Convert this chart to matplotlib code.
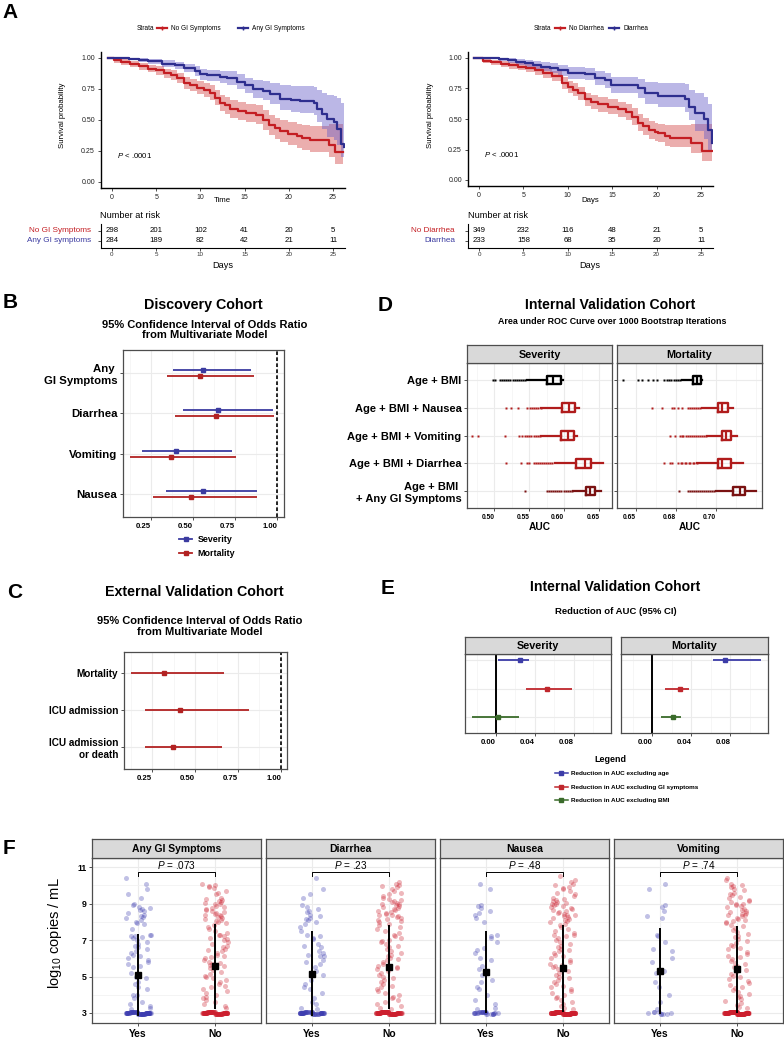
import numpy as np
import matplotlib
matplotlib.use('Agg')
import matplotlib.pyplot as plt
from matplotlib.lines import Line2D

plt.rcParams['font.family'] = ['Liberation Sans', 'DejaVu Sans']
plt.rcParams['mathtext.fontset'] = 'custom'
plt.rcParams['mathtext.rm'] = 'Liberation Sans'
plt.rcParams['mathtext.it'] = 'Liberation Sans:italic'
plt.rcParams['mathtext.bf'] = 'Liberation Sans:bold'

# ------------------------------------------------------------------ data: panel A
km_ticks = [0, 5, 10, 15, 20, 25]
a1_red_t = [-0.5, 0.2, 1.0, 2.0, 3.0, 4.1, 5.0, 5.9, 6.7, 7.4, 8.1, 8.8, 9.6, 10.4, 11.1, 11.6, 12.2, 12.8, 13.3, 14.2,
            15.2, 16.3, 17.1, 17.8, 18.4, 19.0, 19.9, 20.9, 21.5, 22.4, 24.6, 25.2, 26.1]
a1_red_s = [1.0, 0.98, 0.965, 0.95, 0.935, 0.915, 0.9, 0.875, 0.86, 0.84, 0.80, 0.78, 0.76, 0.74, 0.72, 0.68, 0.64, 0.62,
            0.59, 0.575, 0.556, 0.543, 0.50, 0.46, 0.435, 0.41, 0.39, 0.37, 0.355, 0.34, 0.30, 0.24, 0.24]
a1_red_lo = [1.0, 0.962, 0.944, 0.925, 0.906, 0.884, 0.866, 0.838, 0.82, 0.797, 0.754, 0.731, 0.707, 0.684, 0.66, 0.617,
             0.575, 0.552, 0.52, 0.503, 0.482, 0.466, 0.42, 0.378, 0.35, 0.323, 0.30, 0.277, 0.26, 0.243, 0.2, 0.145, 0.13]
a1_red_hi = [1.0, 0.997, 0.988, 0.975, 0.963, 0.946, 0.934, 0.912, 0.9, 0.883, 0.846, 0.829, 0.813, 0.796, 0.78, 0.743,
             0.705, 0.688, 0.66, 0.647, 0.63, 0.62, 0.58, 0.542, 0.52, 0.498, 0.48, 0.468, 0.46, 0.455, 0.47, 0.47, 0.47]
a1_blue_t = [-0.5, 1.9, 3.0, 4.1, 5.6, 7.1, 8.2, 9.4, 10.0, 10.8, 12.2, 13.0, 14.1, 15.0, 16.0, 17.1, 17.9, 19.0, 20.2,
             21.3, 22.8, 23.2, 23.8, 24.3, 25.1, 25.5, 25.9, 26.2]
a1_blue_s = [1.0, 0.995, 0.985, 0.975, 0.955, 0.94, 0.92, 0.897, 0.87, 0.86, 0.85, 0.84, 0.81, 0.78, 0.75, 0.737, 0.71,
             0.67, 0.662, 0.657, 0.64, 0.59, 0.55, 0.51, 0.485, 0.43, 0.31, 0.28]
a1_blue_lo = [1.0, 0.983, 0.967, 0.953, 0.928, 0.908, 0.884, 0.857, 0.826, 0.812, 0.798, 0.785, 0.75, 0.715, 0.68, 0.66,
              0.628, 0.58, 0.568, 0.56, 0.54, 0.48, 0.43, 0.36, 0.34, 0.30, 0.2, 0.18]
a1_blue_hi = [1.0, 1.0, 0.999, 0.995, 0.98, 0.97, 0.955, 0.936, 0.912, 0.905, 0.898, 0.892, 0.868, 0.842, 0.825, 0.815,
              0.8, 0.78, 0.775, 0.772, 0.765, 0.74, 0.72, 0.705, 0.695, 0.675, 0.64, 0.62]
a1_risk_red = [298, 201, 102, 41, 20, 5]
a1_risk_blue = [284, 189, 82, 42, 21, 11]

a2_red_t = [-0.6, 0.5, 1.4, 2.5, 3.4, 4.4, 5.3, 6.3, 7.2, 8.2, 9.3, 10.0, 10.6, 11.2, 11.9, 12.6, 13.4, 14.5, 15.7, 16.5,
            17.2, 17.9, 18.5, 19.1, 19.8, 20.2, 20.9, 21.5, 23.9, 25.1, 26.2]
a2_red_s = [1.0, 0.975, 0.965, 0.95, 0.94, 0.93, 0.915, 0.9, 0.875, 0.85, 0.795, 0.76, 0.74, 0.71, 0.66, 0.64, 0.62, 0.6,
            0.58, 0.555, 0.52, 0.47, 0.44, 0.41, 0.395, 0.385, 0.36, 0.345, 0.30, 0.24, 0.24]
a2_red_lo = [1.0, 0.958, 0.945, 0.926, 0.913, 0.9, 0.882, 0.864, 0.836, 0.808, 0.749, 0.711, 0.689, 0.657, 0.604, 0.582,
             0.561, 0.539, 0.517, 0.49, 0.453, 0.401, 0.369, 0.337, 0.32, 0.309, 0.282, 0.267, 0.22, 0.155, 0.13]
a2_red_hi = [1.0, 0.992, 0.985, 0.974, 0.967, 0.96, 0.948, 0.936, 0.914, 0.892, 0.841, 0.809, 0.791, 0.763, 0.716, 0.697,
             0.679, 0.661, 0.643, 0.62, 0.587, 0.54, 0.512, 0.483, 0.47, 0.461, 0.45, 0.45, 0.46, 0.46, 0.46]
a2_blue_t = [-0.6, 2.2, 3.3, 4.2, 5.2, 6.1, 7.0, 8.0, 8.9, 10.0, 11.9, 13.1, 14.2, 14.9, 17.9, 18.7, 20.2, 23.2, 23.6,
             24.3, 25.3, 25.8, 26.2]
a2_blue_s = [1.0, 0.99, 0.98, 0.97, 0.96, 0.945, 0.93, 0.915, 0.90, 0.88, 0.87, 0.84, 0.82, 0.78, 0.75, 0.71, 0.69, 0.66,
             0.60, 0.55, 0.50, 0.41, 0.30]
a2_blue_lo = [1.0, 0.973, 0.958, 0.944, 0.93, 0.911, 0.893, 0.874, 0.855, 0.83, 0.817, 0.782, 0.758, 0.71, 0.673, 0.627,
              0.6, 0.56, 0.495, 0.40, 0.34, 0.25, 0.15]
a2_blue_hi = [1.0, 1.0, 0.997, 0.993, 0.986, 0.977, 0.966, 0.955, 0.944, 0.928, 0.921, 0.896, 0.88, 0.848, 0.825, 0.805,
              0.795, 0.785, 0.74, 0.71, 0.68, 0.62, 0.62]
a2_risk_red = [349, 232, 116, 48, 21, 5]
a2_risk_blue = [233, 158, 68, 35, 20, 11]

# ------------------------------------------------------------------ data: panel B
b_cats = ['Nausea', 'Vomiting', 'Diarrhea', 'Any \nGI Symptoms']
b_sev_or = [0.56, 0.40, 0.65, 0.56]
b_sev_lo = [0.339, 0.197, 0.44, 0.381]
b_sev_hi = [0.88, 0.73, 0.976, 0.845]
b_mort_or = [0.49, 0.367, 0.637, 0.54]
b_mort_lo = [0.262, 0.125, 0.393, 0.345]
b_mort_hi = [0.88, 0.755, 0.982, 0.863]
or_ticks = [0.25, 0.50, 0.75, 1.00]
or_ticklabels = ['0.25', '0.50', '0.75', '1.00']

# ------------------------------------------------------------------ data: panel C
c_cats = ['ICU admission\nor death', 'ICU admission', 'Mortality']
c_or = [0.372, 0.413, 0.32]
c_lo = [0.209, 0.209, 0.128]
c_hi = [0.655, 0.814, 0.669]

# ------------------------------------------------------------------ data: panel D
d_models = ['Age + BMI \n+ Any GI Symptoms', 'Age + BMI + Diarrhea', 'Age + BMI + Vomiting',
            'Age + BMI + Nausea', 'Age + BMI']
d_sev_q1 = [0.6313, 0.6172, 0.5952, 0.5961, 0.575]
d_sev_med = [0.6369, 0.6289, 0.6055, 0.6069, 0.5834]
d_sev_q3 = [0.6444, 0.6383, 0.6139, 0.6158, 0.5947]
d_sev_wlo = [0.612, 0.586, 0.567, 0.567, 0.546]
d_sev_whi = [0.6524, 0.6547, 0.6186, 0.6205, 0.5985]
d_sev_fliers = [
    [0.5445, 0.575, 0.578, 0.5805, 0.5835, 0.587, 0.590, 0.593, 0.5955, 0.599, 0.602, 0.605, 0.608, 0.6105],
    [0.5173, 0.5384, 0.5469, 0.549, 0.5563, 0.559, 0.562, 0.5655, 0.568, 0.571, 0.574, 0.577, 0.580, 0.583],
    [0.4681, 0.4766, 0.515, 0.5352, 0.540, 0.5436, 0.5469, 0.550, 0.553, 0.556, 0.559, 0.562, 0.565],
    [0.5164, 0.5234, 0.5342, 0.5469, 0.5516, 0.554, 0.557, 0.560, 0.563, 0.566],
    [0.4977, 0.5014, 0.508, 0.511, 0.514, 0.517, 0.52, 0.523, 0.526, 0.529, 0.532, 0.535, 0.538, 0.541, 0.544],
]
d_mort_q1 = [0.7108, 0.701, 0.7035, 0.701, 0.6858]
d_mort_med = [0.715, 0.704, 0.7063, 0.704, 0.6879]
d_mort_q3 = [0.7181, 0.7094, 0.7094, 0.7073, 0.6904]
d_mort_wlo = [0.6998, 0.6884, 0.6946, 0.6915, 0.6789]
d_mort_whi = [0.7248, 0.7171, 0.7129, 0.7108, 0.691]
d_mort_fliers = [
    [0.6769, 0.6827, 0.684, 0.6852, 0.6865, 0.6877, 0.689, 0.6902, 0.6915, 0.6927, 0.694, 0.6952, 0.6965, 0.6977, 0.699],
    [0.6675, 0.6713, 0.6723, 0.6765, 0.6778, 0.679, 0.6803, 0.6815, 0.6828, 0.684, 0.6853, 0.6865, 0.6878],
    [0.6713, 0.6744, 0.6775, 0.6786, 0.6796, 0.681, 0.6822, 0.6835, 0.6847, 0.686, 0.6872, 0.6885, 0.6897, 0.691,
     0.6922, 0.6935],
    [0.6598, 0.666, 0.6723, 0.674, 0.6765, 0.6785, 0.6823, 0.6835, 0.685, 0.6862, 0.6875, 0.6887, 0.69],
    [0.6417, 0.651, 0.6535, 0.6573, 0.6604, 0.6633, 0.6677, 0.669, 0.6705, 0.672, 0.6735, 0.675, 0.6765, 0.6777],
]
d_sev_ticks = [0.50, 0.55, 0.60, 0.65]
d_sev_ticklabels = ['0.50', '0.55', '0.60', '0.65']
d_mort_ticks = [0.65, 0.675, 0.70]
d_mort_ticklabels = ['0.65', '0.68', '0.70']

# ------------------------------------------------------------------ data: panel E
e_terms = ['Reduction in AUC excluding age', 'Reduction in AUC excluding GI symptoms',
           'Reduction in AUC excluding BMI']
e_sev_est = [0.0247, 0.053, 0.0017]
e_sev_lo = [0.0024, 0.031, -0.025]
e_sev_hi = [0.034, 0.078, 0.024]
e_mort_est = [0.0749, 0.028, 0.021]
e_mort_lo = [0.062, 0.0126, 0.0095]
e_mort_hi = [0.112, 0.038, 0.030]
e_ticks = [0.00, 0.04, 0.08]
e_ticklabels = ['0.00', '0.04', '0.08']

# ------------------------------------------------------------------ data: panel F
f_groups = ['Any GI Symptoms', 'Diarrhea', 'Nausea', 'Vomiting']
f_pvals = ['.073', '.23', '.48', '.74']
f_cats = ['Yes', 'No']
f_mean_yes = [5.1, 5.15, 5.24, 5.29]
f_sd_yes = [2.25, 2.32, 2.25, 2.35]
f_mean_no = [5.55, 5.5, 5.45, 5.4]
f_sd_no = [2.35, 2.3, 2.37, 2.38]
f_lod_yes = [70, 55, 26, 9]
f_lod_no = [90, 100, 120, 130]
f_any_yes = [10.4, 10.1, 9.8, 9.5, 9.3, 9.0, 8.9, 8.8, 8.75, 8.7, 8.65, 8.6, 8.5, 8.4, 8.3, 8.25, 8.2, 8.1, 8.0, 7.95,
             7.9, 7.6, 7.3, 7.25, 7.2, 7.15, 7.2, 7.1, 7.0, 6.9, 6.8, 6.7, 6.6, 6.5, 6.4, 6.3, 6.2, 6.15, 6.0, 5.9, 5.8,
             5.7, 5.6, 5.5, 5.2, 5.0, 4.9, 4.7, 4.6, 4.4, 4.3, 4.0, 4.0, 3.8, 3.6, 3.5, 3.4, 3.3, 3.2]
f_any_no = [10.1, 10.0, 9.95, 9.9, 9.85, 9.7, 9.6, 9.5, 9.3, 9.25, 9.2, 9.15, 9.1, 9.05, 9.0, 8.95, 8.85, 8.8, 8.75,
            8.7, 8.65, 8.6, 8.55, 8.5, 8.45, 8.4, 8.35, 8.3, 8.25, 8.2, 8.15, 8.1, 8.05, 8.0, 7.95, 7.85, 7.7, 7.6,
            7.5, 7.4, 7.3, 7.25, 7.2, 7.1, 7.05, 7.0, 6.9, 6.8, 6.7, 6.6, 6.5, 6.45, 6.4, 6.3, 6.2, 6.1, 6.05, 6.0,
            5.9, 5.8, 5.75, 5.7, 5.65, 5.6, 5.55, 5.5, 5.45, 5.35, 5.25, 5.15, 5.05, 5.0, 4.9, 4.8, 4.7, 4.6, 4.5,
            4.4, 4.3, 4.2, 4.1, 4.0, 3.9, 3.8, 3.7, 3.6, 3.5, 3.4, 3.3]
f_dia_yes = [10.4, 9.8, 9.5, 9.3, 8.9, 8.8, 8.7, 8.6, 8.55, 8.4, 8.3, 8.2, 8.15, 8.1, 8.0, 7.9, 7.7, 7.5, 7.3, 7.2,
             7.1, 7.05, 6.8, 6.7, 6.6, 6.4, 6.3, 6.2, 6.15, 6.1, 5.9, 5.8, 5.7, 5.5, 5.3, 5.1, 4.8, 4.6, 4.4, 4.3, 4.1,
             3.8, 3.6, 3.5, 3.3, 3.2]
f_dia_no = [10.2, 10.1, 10.0, 9.95, 9.9, 9.8, 9.7, 9.6, 9.5, 9.4, 9.3, 9.25, 9.2, 9.15, 9.1, 9.05, 9.0, 8.95, 8.9,
            8.85, 8.8, 8.75, 8.7, 8.65, 8.6, 8.55, 8.5, 8.45, 8.4, 8.35, 8.3, 8.25, 8.2, 8.15, 8.1, 8.05, 8.0, 7.9,
            7.8, 7.7, 7.6, 7.5, 7.4, 7.3, 7.2, 7.1, 7.0, 6.95, 6.9, 6.8, 6.7, 6.6, 6.5, 6.4, 6.3, 6.2, 6.1, 6.0,
            5.95, 5.9, 5.8, 5.7, 5.6, 5.55, 5.5, 5.45, 5.4, 5.3, 5.2, 5.1, 5.0, 4.9, 4.8, 4.7, 4.6, 4.5, 4.4, 4.3,
            4.2, 4.1, 4.0, 3.9, 3.8, 3.7, 3.6, 3.5, 3.4, 3.3, 3.2]
f_nau_yes = [10.1, 9.8, 8.9, 8.85, 8.75, 8.6, 8.5, 8.4, 8.2, 8.0, 7.3, 7.2, 7.1, 6.9, 6.55, 6.45, 6.3, 6.0, 5.9, 5.6,
             5.4, 5.1, 4.8, 4.7, 4.4, 4.3, 4.0, 3.7, 3.5, 3.3, 3.2]
f_nau_no = [10.5, 10.3, 10.2, 10.1, 10.0, 9.9, 9.85, 9.8, 9.7, 9.6, 9.5, 9.4, 9.3, 9.25, 9.2, 9.15, 9.1, 9.05, 9.0,
            8.95, 8.9, 8.85, 8.8, 8.75, 8.7, 8.65, 8.6, 8.55, 8.5, 8.45, 8.4, 8.35, 8.3, 8.25, 8.2, 8.15, 8.1, 8.05,
            8.0, 7.9, 7.8, 7.7, 7.6, 7.5, 7.4, 7.3, 7.25, 7.2, 7.1, 7.0, 6.9, 6.8, 6.7, 6.6, 6.5, 6.45, 6.4, 6.3,
            6.2, 6.1, 6.0, 5.9, 5.8, 5.7, 5.65, 5.6, 5.5, 5.4, 5.3, 5.2, 5.1, 5.0, 4.9, 4.8, 4.7, 4.6, 4.5, 4.4,
            4.3, 4.2, 4.1, 4.0, 3.9, 3.8, 3.7, 3.6, 3.5, 3.4, 3.3, 3.2]
f_vom_yes = [10.1, 9.8, 8.9, 8.8, 8.6, 8.3, 8.2, 7.3, 7.2, 6.9, 6.5, 6.4, 6.0, 5.8, 5.3, 5.2, 4.7, 4.4, 4.0, 3.6, 3.2]
f_vom_no = [10.4, 10.3, 10.1, 10.0, 9.95, 9.9, 9.8, 9.75, 9.6, 9.5, 9.45, 9.35, 9.3, 9.2, 9.15, 9.1, 9.0, 8.95, 8.9,
            8.85, 8.8, 8.7, 8.65, 8.6, 8.55, 8.5, 8.45, 8.4, 8.35, 8.3, 8.2, 8.15, 8.1, 8.05, 8.0, 7.95, 7.85, 7.75,
            7.65, 7.55, 7.45, 7.35, 7.2, 7.15, 7.05, 6.95, 6.85, 6.75, 6.65, 6.55, 6.5, 6.35, 6.25, 6.15, 6.05, 5.95,
            5.85, 5.75, 5.7, 5.6, 5.5, 5.45, 5.35, 5.25, 5.15, 5.05, 4.95, 4.85, 4.75, 4.65, 4.55, 4.45, 4.35, 4.25,
            4.15, 4.05, 3.95, 3.85, 3.75, 3.65, 3.55, 3.45, 3.35, 3.25]
f_det_yes = [f_any_yes, f_dia_yes, f_nau_yes, f_vom_yes]
f_det_no = [f_any_no, f_dia_no, f_nau_no, f_vom_no]
f_lod_value = 3.0
f_yticks = [3, 5, 7, 9, 11]

# ------------------------------------------------------------------ styling
RED = '#C41E23'
BLUE = '#2E2E8F'
RED_FILL = '#D04040'
BLUE_FILL = '#6A60C8'
OR_BLUE = '#3B3BA0'
OR_RED = '#B22222'
D_RED = '#B01C1C'
D_DARK = '#7A1212'
E_COLS = ['#3C3CA8', '#C0272D', '#3A6B2A']
F_BLUE = '#3D3DB0'
F_RED = '#CC1F2E'
GRID = '#EBEBEB'
BORDER = '#4D4D4D'

W, H = 784, 1037
fig = plt.figure(figsize=(W / 100, H / 100), dpi=100)


def pax(l, t, r, b):
    return fig.add_axes([l / W, 1 - b / H, (r - l) / W, (b - t) / H])


def ftext(x, y, s, **kw):
    kw.setdefault('ha', 'center')
    kw.setdefault('va', 'center')
    return fig.text(x / W, 1 - y / H, s, **kw)


def bw_style(ax):
    for sp in ax.spines.values():
        sp.set_color(BORDER)
        sp.set_linewidth(0.9)
    ax.set_axisbelow(True)
    ax.tick_params(which='major', length=2.5, width=0.6, color='#333333', pad=1.5)
    ax.tick_params(which='minor', length=0)


def strip(l, t, r, b, label, fs):
    sa = pax(l, t, r, b)
    sa.set_facecolor('#D9D9D9')
    sa.set_xticks([])
    sa.set_yticks([])
    for sp in sa.spines.values():
        sp.set_color(BORDER)
        sp.set_linewidth(0.9)
    sa.text(0.5, 0.47, label, ha='center', va='center', fontsize=fs, fontweight='bold', transform=sa.transAxes)


# ------------------------------------------------------------------ panel A
def km_panel(l, r, t, b, curves, xlabel, risk_rows, row_label_x, risk_l, risk_r, ylab_x):
    ax = pax(l, t, r, b)
    for tt, ss, lo, hi, col, fcol, falpha in curves:
        ax.fill_between(tt, lo, hi, step='post', color=fcol, alpha=falpha, lw=0)
    for tt, ss, lo, hi, col, fcol, falpha in curves:
        ax.step(tt, ss, where='post', color=col, lw=1.6)
    ax.set_xlim(-1.3, 26.3)
    ax.set_ylim(-0.05, 1.05)
    ax.spines['top'].set_visible(False)
    ax.spines['right'].set_visible(False)
    ax.spines['left'].set_linewidth(1.0)
    ax.spines['bottom'].set_linewidth(1.0)
    ax.set_xticks(km_ticks)
    ax.set_yticks([0, 0.25, 0.5, 0.75, 1.0])
    ax.set_yticklabels(['0.00', '0.25', '0.50', '0.75', '1.00'])
    ax.tick_params(labelsize=5, length=2.5, width=0.6, pad=1.5, colors='#333333', labelcolor='#222222')
    ax.text(0.55, 0.21, r'$P$ < .0001', fontsize=5.6, ha='left', va='center')
    ftext((l + r) / 2, 201, xlabel, fontsize=5.6)
    ftext(ylab_x, 115, 'Survival probability', fontsize=5.6, rotation=90)
    # risk table
    rt = pax(risk_l, 224, risk_r, 248)
    rt.set_xlim(-1.3, 26.3)
    rt.set_ylim(2.4, 0)
    rt.spines['top'].set_visible(False)
    rt.spines['right'].set_visible(False)
    rt.set_xticks(km_ticks)
    rt.set_yticks([0.7, 1.7])
    rt.set_yticklabels(['', ''])
    rt.tick_params(labelsize=4.5, length=2, width=0.6, pad=1, colors='#333333', labelcolor='#333333')
    for row, (vals, lab, col) in enumerate(risk_rows):
        for d, v in zip(km_ticks, vals):
            rt.text(d, 0.7 + row, str(v), ha='center', va='center', fontsize=5.6)
        ftext(row_label_x, 231 + 10 * row, lab, fontsize=5.9, color=col, ha='right')
    ftext(risk_l, 216, 'Number at risk', fontsize=6.6, ha='left')
    ftext((risk_l + risk_r) / 2, 265, 'Days', fontsize=6.6)
    return ax


km_panel(100.5, 344.5, 51.8, 188.2,
         [(a1_red_t, a1_red_s, a1_red_lo, a1_red_hi, RED, RED_FILL, 0.42),
          (a1_blue_t, a1_blue_s, a1_blue_lo, a1_blue_hi, BLUE, BLUE_FILL, 0.45)],
         'Time', [(a1_risk_red, 'No GI Symptoms', RED), (a1_risk_blue, 'Any GI symptoms', '#3B3BA0')],
         91, 100.5, 344.5, 63)
km_panel(467.5, 712.5, 51.9, 186.1,
         [(a2_red_t, a2_red_s, a2_red_lo, a2_red_hi, RED, RED_FILL, 0.42),
          (a2_blue_t, a2_blue_s, a2_blue_lo, a2_blue_hi, BLUE, BLUE_FILL, 0.45)],
         'Days', [(a2_risk_red, 'No Diarrhea', RED), (a2_risk_blue, 'Diarrhea', '#3B3BA0')],
         455, 467.5, 712.5, 430)


def km_legend(x_strata, items, y=28):
    ftext(x_strata, y, 'Strata', fontsize=4.7, ha='left')
    for x0, lab, col in items:
        fig.add_artist(Line2D([x0 / W, (x0 + 10) / W], [1 - y / H, 1 - y / H], transform=fig.transFigure,
                              color=col, lw=1.6))
        fig.add_artist(Line2D([(x0 + 5) / W], [1 - y / H], transform=fig.transFigure, color=col,
                              marker='+', ms=3.5, mew=1.0, ls='none'))
        ftext(x0 + 14, y, lab, fontsize=4.7, ha='left')


km_legend(137, [(157, 'No GI Symptoms', RED), (238, 'Any GI Symptoms', BLUE)])
km_legend(534, [(555, 'No Diarrhea', RED), (609, 'Diarrhea', BLUE)])


# ------------------------------------------------------------------ panels B & C
def or_axes(l, t, r, b, xlim, ylim, cats, label_fs):
    ax = pax(l, t, r, b)
    bw_style(ax)
    ax.set_xlim(*xlim)
    ax.set_ylim(*ylim)
    ax.set_xticks(or_ticks)
    ax.set_xticklabels(or_ticklabels)
    ax.set_xticks([0.125, 0.375, 0.625, 0.875], minor=True)
    ax.grid(True, which='major', color=GRID, lw=0.8)
    ax.grid(True, which='minor', axis='x', color='#F3F3F3', lw=0.5)
    ax.set_yticks(np.arange(1, len(cats) + 1))
    ax.set_yticklabels(cats, fontsize=label_fs, fontweight='bold')
    for lbl in ax.get_xticklabels():
        lbl.set_ha('right')
        lbl.set_fontweight('bold')
        lbl.set_fontsize(5.6)
    ax.axvline(1.0, color='black', ls=(0, (2.2, 1.4)), lw=1.2)
    return ax


# B
axb = or_axes(123, 350, 284, 517, (0.083, 1.042), (0.43, 4.57), b_cats, 8.2)
yb = np.arange(1, len(b_cats) + 1)
axb.hlines(yb + 0.075, b_sev_lo, b_sev_hi, color=OR_BLUE, lw=1.3)
axb.plot(b_sev_or, yb + 0.075, 's', color=OR_BLUE, ms=3)
axb.hlines(yb - 0.075, b_mort_lo, b_mort_hi, color=OR_RED, lw=1.3)
axb.plot(b_mort_or, yb - 0.075, 's', color=OR_RED, ms=3)
ftext(203, 305, 'Discovery Cohort', fontsize=10.3, fontweight='bold')
ftext(205, 330, '95% Confidence Interval of Odds Ratio\nfrom Multivariate Model', fontsize=8,
      fontweight='bold', linespacing=1.05)
hb = [Line2D([], [], color=OR_BLUE, marker='s', ms=2.8, lw=1.3),
      Line2D([], [], color=OR_RED, marker='s', ms=2.8, lw=1.3)]
fig.legend(hb, ['Severity', 'Mortality'], loc='upper left', bbox_to_anchor=(179 / W, 1 - 535 / H),
           frameon=False, prop={'size': 6.4, 'weight': 'bold'}, handlelength=1.5, handletextpad=0.6,
           labelspacing=0.55, borderpad=0, borderaxespad=0)

# C
axc = or_axes(124, 652, 287, 769, (0.087, 1.035), (0.42, 3.57), c_cats, 7.2)
yc = np.arange(1, len(c_cats) + 1)
axc.hlines(yc, c_lo, c_hi, color=OR_RED, lw=1.3)
axc.plot(c_or, yc, 's', color=OR_RED, ms=3.2)
ftext(194, 592, 'External Validation Cohort', fontsize=10.3, fontweight='bold')
ftext(200, 626.5, '95% Confidence Interval of Odds Ratio\nfrom Multivariate Model', fontsize=8,
      fontweight='bold', linespacing=1.05)


# ------------------------------------------------------------------ panel D
def box_axes(l, t, r, b, xlim, ticks, ticklabels, minor, q1, med, q3, wlo, whi, fliers, show_y):
    ax = pax(l, t, r, b)
    bw_style(ax)
    ax.set_xlim(*xlim)
    ax.set_ylim(0.4, 5.6)
    ax.set_xticks(ticks)
    ax.set_xticklabels(ticklabels)
    ax.set_xticks(minor, minor=True)
    ax.grid(True, which='major', color=GRID, lw=0.8)
    ax.grid(True, which='minor', axis='x', color='#F3F3F3', lw=0.5)
    for lbl in ax.get_xticklabels():
        lbl.set_ha('right')
        lbl.set_fontweight('bold')
        lbl.set_fontsize(4.8)
    ax.set_yticks(np.arange(1, 6))
    if show_y:
        ax.set_yticklabels(d_models, fontsize=8, fontweight='bold')
    else:
        ax.set_yticklabels([''] * 5)
    cols = [D_DARK, D_RED, D_RED, D_RED, 'black']
    for i in range(5):
        st = dict(med=med[i], q1=q1[i], q3=q3[i], whislo=wlo[i], whishi=whi[i], fliers=fliers[i])
        c = cols[i]
        kw = dict(positions=[i + 1], widths=0.3, showcaps=False, manage_ticks=False,
                  boxprops=dict(color=c, lw=1.7), whiskerprops=dict(color=c, lw=1.6),
                  medianprops=dict(color=c, lw=1.6),
                  flierprops=dict(marker='s', ms=1.8, mfc=c, mec='none', ls='none'))
        try:
            ax.bxp([st], orientation='horizontal', **kw)
        except TypeError:
            ax.bxp([st], vert=False, **kw)
    return ax


box_axes(467, 363, 612, 508, (0.461, 0.668), d_sev_ticks, d_sev_ticklabels,
         [0.475, 0.525, 0.575, 0.625], d_sev_q1, d_sev_med, d_sev_q3, d_sev_wlo, d_sev_whi, d_sev_fliers, True)
box_axes(617, 363, 762, 508, (0.638, 0.7288), d_mort_ticks, d_mort_ticklabels,
         [0.6625, 0.6875, 0.7125, 0.725], d_mort_q1, d_mort_med, d_mort_q3, d_mort_wlo, d_mort_whi,
         d_mort_fliers, False)
strip(467, 345, 612, 363, 'Severity', 7.8)
strip(617, 345, 762, 363, 'Mortality', 7.8)
ftext(539.5, 527, 'AUC', fontsize=7.3, fontweight='bold')
ftext(689.5, 527, 'AUC', fontsize=7.3, fontweight='bold')
ftext(610, 305, 'Internal Validation Cohort', fontsize=10.1, fontweight='bold')
ftext(612, 322, 'Area under ROC Curve over 1000 Bootstrap Iterations', fontsize=6.4, fontweight='bold')


# ------------------------------------------------------------------ panel E
def e_axes(l, t, r, b, est, lo, hi):
    ax = pax(l, t, r, b)
    bw_style(ax)
    ax.set_xlim(-0.032, 0.1187)
    ax.set_ylim(0.44, 3.21)
    ax.set_xticks(e_ticks)
    ax.set_xticklabels(e_ticklabels)
    ax.set_xticks([-0.02, 0.02, 0.06, 0.10], minor=True)
    ax.grid(True, which='major', color=GRID, lw=0.8)
    ax.grid(True, which='minor', axis='x', color='#F3F3F3', lw=0.5)
    for lbl in ax.get_xticklabels():
        lbl.set_ha('right')
        lbl.set_fontweight('bold')
        lbl.set_fontsize(5.6)
    ax.set_yticks([1, 2, 3])
    ax.set_yticklabels(['', '', ''])
    ax.tick_params(axis='y', length=0)
    ax.axvline(0.0, color='black', lw=1.4)
    ys = [3, 2, 1]
    for k in range(3):
        ax.hlines(ys[k], lo[k], hi[k], color=E_COLS[k], lw=1.3)
        ax.plot([est[k]], [ys[k]], 's', color=E_COLS[k], ms=2.8)
    return ax


e_axes(465, 654, 611, 733, e_sev_est, e_sev_lo, e_sev_hi)
e_axes(621, 654, 768, 733, e_mort_est, e_mort_lo, e_mort_hi)
strip(465, 637, 611, 654, 'Severity', 7.8)
strip(621, 637, 768, 654, 'Mortality', 7.8)
ftext(615, 587, 'Internal Validation Cohort', fontsize=10.1, fontweight='bold')
ftext(616, 612, 'Reduction of AUC (95% CI)', fontsize=6.8, fontweight='bold')
ftext(610, 759, 'Legend', fontsize=6.4, fontweight='bold')
he = [Line2D([], [], color=c, marker='s', ms=2.3, lw=1.1) for c in E_COLS]
fig.legend(he, e_terms, loc='upper left', bbox_to_anchor=(555 / W, 1 - 771 / H), frameon=False,
           prop={'size': 4.6, 'weight': 'bold'}, handlelength=2.0, handletextpad=0.5, labelspacing=1.25,
           borderpad=0, borderaxespad=0)


# ------------------------------------------------------------------ panel F
def jitter(n, w, phase):
    """Deterministic quadratic Weyl-sequence offsets in [-w, w] (display jitter only)."""
    k = np.arange(1, n + 1, dtype=float)
    u = (k * k * 0.6180339887 + k * 0.4142135624 + phase) % 1.0
    return u * 2 * w - w


f_left = [92, 266, 440, 614]
for i, g in enumerate(f_groups):
    l = f_left[i]
    r = l + 169
    ax = pax(l, 858, r, 1023)
    bw_style(ax)
    ax.set_xlim(0.4, 2.6)
    ax.set_ylim(2.45, 11.5)
    ax.set_yticks(f_yticks)
    ax.set_yticks([4, 6, 8, 10], minor=True)
    ax.grid(True, which='major', color=GRID, lw=0.8)
    ax.grid(True, which='minor', axis='y', color='#F3F3F3', lw=0.6)
    ax.set_xticks([1, 2])
    ax.set_xticklabels(f_cats, fontsize=7.4, fontweight='bold')
    if i == 0:
        ax.set_yticklabels([str(v) for v in f_yticks], fontsize=6.3, fontweight='bold')
    else:
        ax.set_yticklabels([''] * len(f_yticks))
        ax.tick_params(axis='y', length=0)
    for xc, det, nlod, col, ph in [(1, f_det_yes[i], f_lod_yes[i], F_BLUE, 0.1 + 0.21 * i),
                                   (2, f_det_no[i], f_lod_no[i], F_RED, 0.37 + 0.13 * i)]:
        ylod = f_lod_value + jitter(nlod, 0.07, ph + 0.5)
        yv = np.concatenate([ylod, np.asarray(det, dtype=float)])
        xv = xc + jitter(len(yv), 0.165, ph)
        ax.scatter(xv, yv, s=13, color=col, alpha=0.32, lw=0, zorder=2)
    for xc, m, sd in [(1, f_mean_yes[i], f_sd_yes[i]), (2, f_mean_no[i], f_sd_no[i])]:
        ax.vlines(xc, m - sd, m + sd, color='black', lw=1.4, zorder=3)
        ax.plot([xc], [m], 's', color='black', ms=4.6, zorder=4)
    ax.plot([1, 1, 2, 2], [10.5, 10.72, 10.72, 10.5], color='black', lw=0.7)
    ax.text(1.5, 10.76, r'$P$ = ' + f_pvals[i], ha='center', va='bottom', fontsize=7.2)
    strip(l, 839, r, 858, g, 7.5)

ftext(55, 933, r'log$_{10}$ copies / mL', fontsize=10.5, rotation=90)

# ------------------------------------------------------------------ panel letters
for lab, x, y in [('A', 10, 12), ('B', 10, 303), ('C', 15, 592), ('D', 385, 305), ('E', 388, 588), ('F', 9, 848)]:
    ftext(x, y, lab, fontsize=15, fontweight='bold')

fig.savefig('out.png', dpi=100)
